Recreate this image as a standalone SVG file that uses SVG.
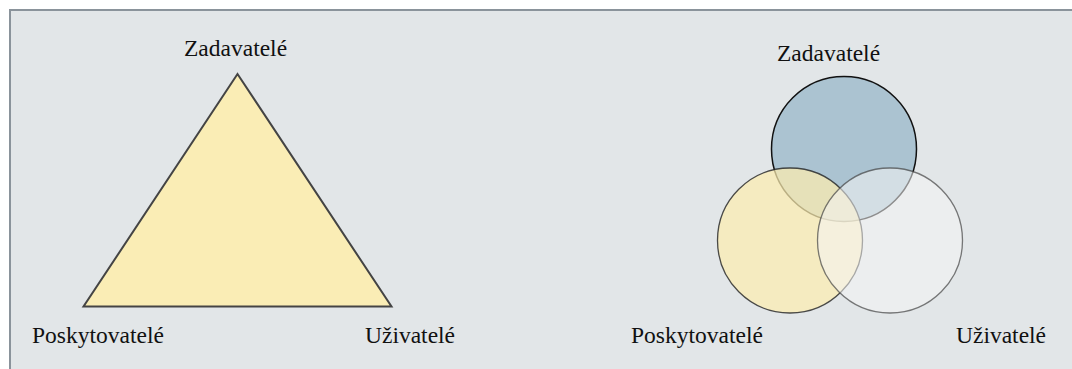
<svg xmlns="http://www.w3.org/2000/svg" width="1072" height="369" viewBox="0 0 1072 369">
<rect x="0" y="0" width="1072" height="369" fill="#ffffff"/>
<rect x="10" y="10" width="1090" height="400" fill="#e2e6e8" stroke="#8a939b" stroke-width="2"/>
<g id="triangle">
<polygon points="237.5,74 83.5,306.5 391.5,306.5" fill="#faedb5" stroke="#444444" stroke-width="2" stroke-linejoin="miter"/>
</g>
<g id="tri-labels">
<text x="184" y="56" font-family="Liberation Serif" font-size="23.5" fill="#111111">Zadavatelé</text>
<text x="32" y="342.5" font-family="Liberation Serif" font-size="23.5" fill="#111111">Poskytovatelé</text>
<text x="365" y="342.5" font-family="Liberation Serif" font-size="23.5" fill="#111111">Uživatelé</text>
</g>
<g id="venn-zadavatele">
<circle cx="844" cy="149" r="72.5" fill="#abc3d1" stroke="#111111" stroke-width="1.5"/>
</g>
<g id="venn-poskytovatele">
<circle cx="790" cy="240.5" r="72.5" fill="#fcedb0" fill-opacity="0.72" stroke="#222222" stroke-opacity="0.8" stroke-width="1.3"/>
</g>
<g id="venn-uzivatele">
<circle cx="890" cy="240.5" r="72.5" fill="#f4f4f4" fill-opacity="0.55" stroke="#444444" stroke-opacity="0.7" stroke-width="1.3"/>
</g>
<g id="venn-labels">
<text x="777" y="60.5" font-family="Liberation Serif" font-size="23.5" fill="#111111">Zadavatelé</text>
<text x="631" y="342.5" font-family="Liberation Serif" font-size="23.5" fill="#111111">Poskytovatelé</text>
<text x="956" y="342.5" font-family="Liberation Serif" font-size="23.5" fill="#111111">Uživatelé</text>
</g>
</svg>
